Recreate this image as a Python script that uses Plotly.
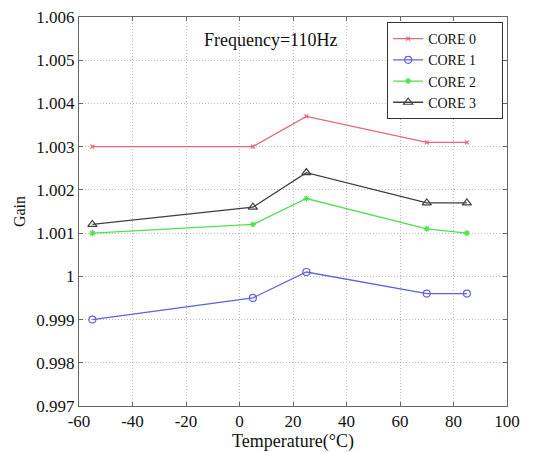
import plotly.graph_objects as go

temps = [-55, 5, 25, 70, 85]
core0 = [1.0030, 1.0030, 1.0037, 1.0031, 1.0031]
core1 = [0.9990, 0.9995, 1.0001, 0.9996, 0.9996]
core2 = [1.0010, 1.0012, 1.0018, 1.0011, 1.0010]
core3 = [1.0012, 1.0016, 1.0024, 1.0017, 1.0017]
names = ["CORE 0", "CORE 1", "CORE 2", "CORE 3"]
x_ticks = [-60, -40, -20, 0, 20, 40, 60, 80, 100]
x_labels = ["-60", "-40", "-20", "0", "20", "40", "60", "80", "100"]
y_ticks = [0.997, 0.998, 0.999, 1.0, 1.001, 1.002, 1.003, 1.004, 1.005, 1.006]
y_labels = ["0.997", "0.998", "0.999", "1", "1.001", "1.002", "1.003", "1.004", "1.005", "1.006"]
title_text = "Frequency=110Hz"

colors = ["#e26878", "#6262d8", "#50e050", "#404040"]
symbols = ["x-thin", "circle-open", "asterisk", "triangle-up-open"]
sizes = [4, 7, 5, 8]
FONT = "Liberation Serif, Times New Roman, serif"

fig = go.Figure()
for name, vals, c, s, sz in zip(names, [core0, core1, core2, core3], colors, symbols, sizes):
    fig.add_trace(go.Scatter(
        x=temps, y=vals, name=name + "\u00a0" * 6, mode="lines+markers",
        line=dict(color=c, width=1.3),
        marker=dict(symbol=s, size=sz, color=c, line=dict(color=c, width=1.2)),
    ))

fig.add_annotation(x=0.448, y=0.941, xref="paper", yref="paper",
                   xanchor="center", yanchor="middle",
                   text=title_text, showarrow=False,
                   font=dict(size=18, color="#111", family=FONT))

axis_common = dict(
    showline=True, linecolor="#666", linewidth=1, mirror="ticks",
    showgrid=True, gridcolor="#b8b8b8", griddash="1px,2px", gridwidth=1,
    ticks="inside", ticklen=4, tickcolor="#666", zeroline=False,
    automargin=False,
    tickfont=dict(size=17, family=FONT, color="#111"),
)
fig.update_xaxes(range=[-60, 100], tickvals=x_ticks, ticktext=x_labels,
                 title=dict(text="Temperature(°C)", standoff=0,
                            font=dict(size=18, family=FONT, color="#111")), **axis_common)
fig.update_yaxes(range=[0.997, 1.006], tickvals=y_ticks, ticktext=y_labels,
                 title=dict(text="Gain", standoff=6,
                            font=dict(size=16, family=FONT, color="#111")),
                 **axis_common)

fig.update_layout(
    width=533, height=452, plot_bgcolor="white", paper_bgcolor="white",
    margin=dict(l=79, r=26, t=17, b=46),
    legend=dict(x=0.991, y=0.987, xanchor="right", yanchor="top",
                bordercolor="#333", borderwidth=1, bgcolor="white",
                font=dict(size=14, family=FONT, color="#111"),
                tracegroupgap=0),
    showlegend=True,
)
fig.write_html("out.html", config={"displayModeBar": False},
               post_script="document.body.style.margin='0';")
